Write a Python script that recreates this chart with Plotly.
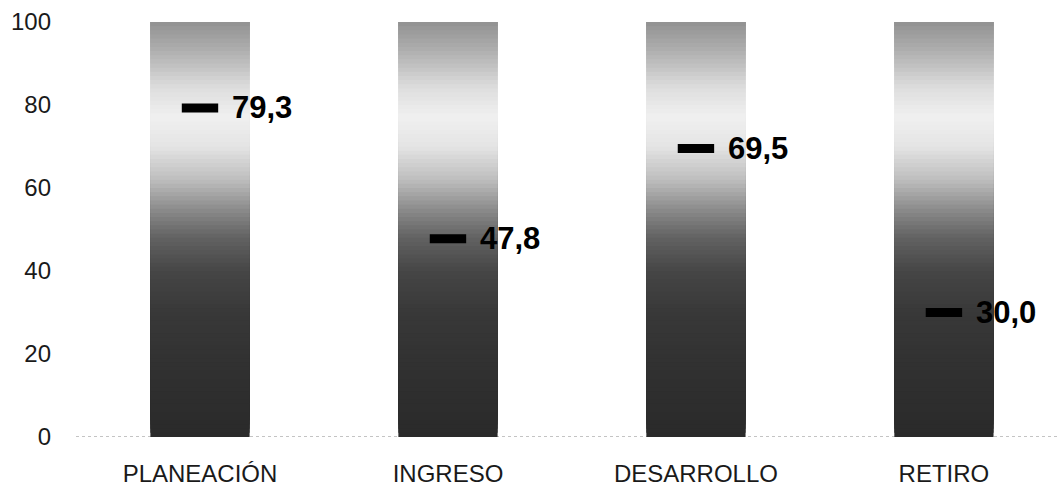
import plotly.graph_objects as go

categories = ["PLANEACIÓN", "INGRESO", "DESARROLLO", "RETIRO"]
bar_max = [100, 100, 100, 100]
values = [79.3, 47.8, 69.5, 30.0]
value_labels = ["79,3", "47,8", "69,5", "30,0"]
y_ticks = [0, 20, 40, 60, 80, 100]

# gradient stops (position in % of bar height, gray level)
stops = [(0, 42), (15, 48), (30, 56), (40, 70), (48, 98), (55, 140), (62, 190),
         (70, 228), (77, 240), (84, 222), (92, 180), (100, 145)]

def gray_at(p):
    for (p0, g0), (p1, g1) in zip(stops[:-1], stops[1:]):
        if p0 <= p <= p1:
            t = (p - p0) / (p1 - p0)
            return round(g0 + t * (g1 - g0))
    return stops[-1][1]

xs, bases, hs, cols = [], [], [], []
steps = 100
for i in range(steps):
    for ci, c in enumerate(categories):
        top = bar_max[ci]
        b = top * i / steps
        xs.append(ci)
        bases.append(b)
        hs.append(top - b)
        g = gray_at(100 * (i + 0.5) / steps)
        cols.append(f"rgb({g},{g},{g})")

fig = go.Figure()
fig.add_trace(go.Bar(x=xs, y=hs, base=bases, width=0.4,
                     marker=dict(color=cols, line=dict(width=0)),
                     hoverinfo="skip", showlegend=False))

fig.add_trace(go.Scatter(x=list(range(len(categories))), y=values, mode="markers",
                         marker=dict(symbol="line-ew", size=26,
                                     line=dict(width=9, color="black")),
                         hoverinfo="skip", showlegend=False))

for ci, (v, t) in enumerate(zip(values, value_labels)):
    fig.add_annotation(x=ci, y=v, text=f"<b>{t}</b>", showarrow=False,
                       xanchor="left", yanchor="middle", xshift=30,
                       font=dict(family="Liberation Sans", size=31, color="black"))

fig.add_shape(type="line", xref="paper", yref="y", x0=0, x1=1, y0=0, y1=0,
              line=dict(color="#888888", width=1, dash="dot"), layer="below")

fig.update_layout(
    width=1058, height=491,
    margin=dict(l=76, r=0, t=22, b=54),
    plot_bgcolor="white", paper_bgcolor="white",
    barmode="overlay",
    font=dict(family="Liberation Sans", size=24, color="#1a1a1a"),
    xaxis=dict(range=[-0.5, 3.46], tickvals=list(range(len(categories))),
               ticktext=categories, showgrid=False, zeroline=False,
               showline=False, ticks="", ticklabelstandoff=20, automargin=False),
    yaxis=dict(range=[0, 100], tickvals=y_ticks, showgrid=False, zeroline=False,
               showline=False, ticks="", ticklabelstandoff=24, automargin=False),
)

fig.write_html("out.html", config={"displayModeBar": False},
               post_script="document.body.style.margin='0';")
